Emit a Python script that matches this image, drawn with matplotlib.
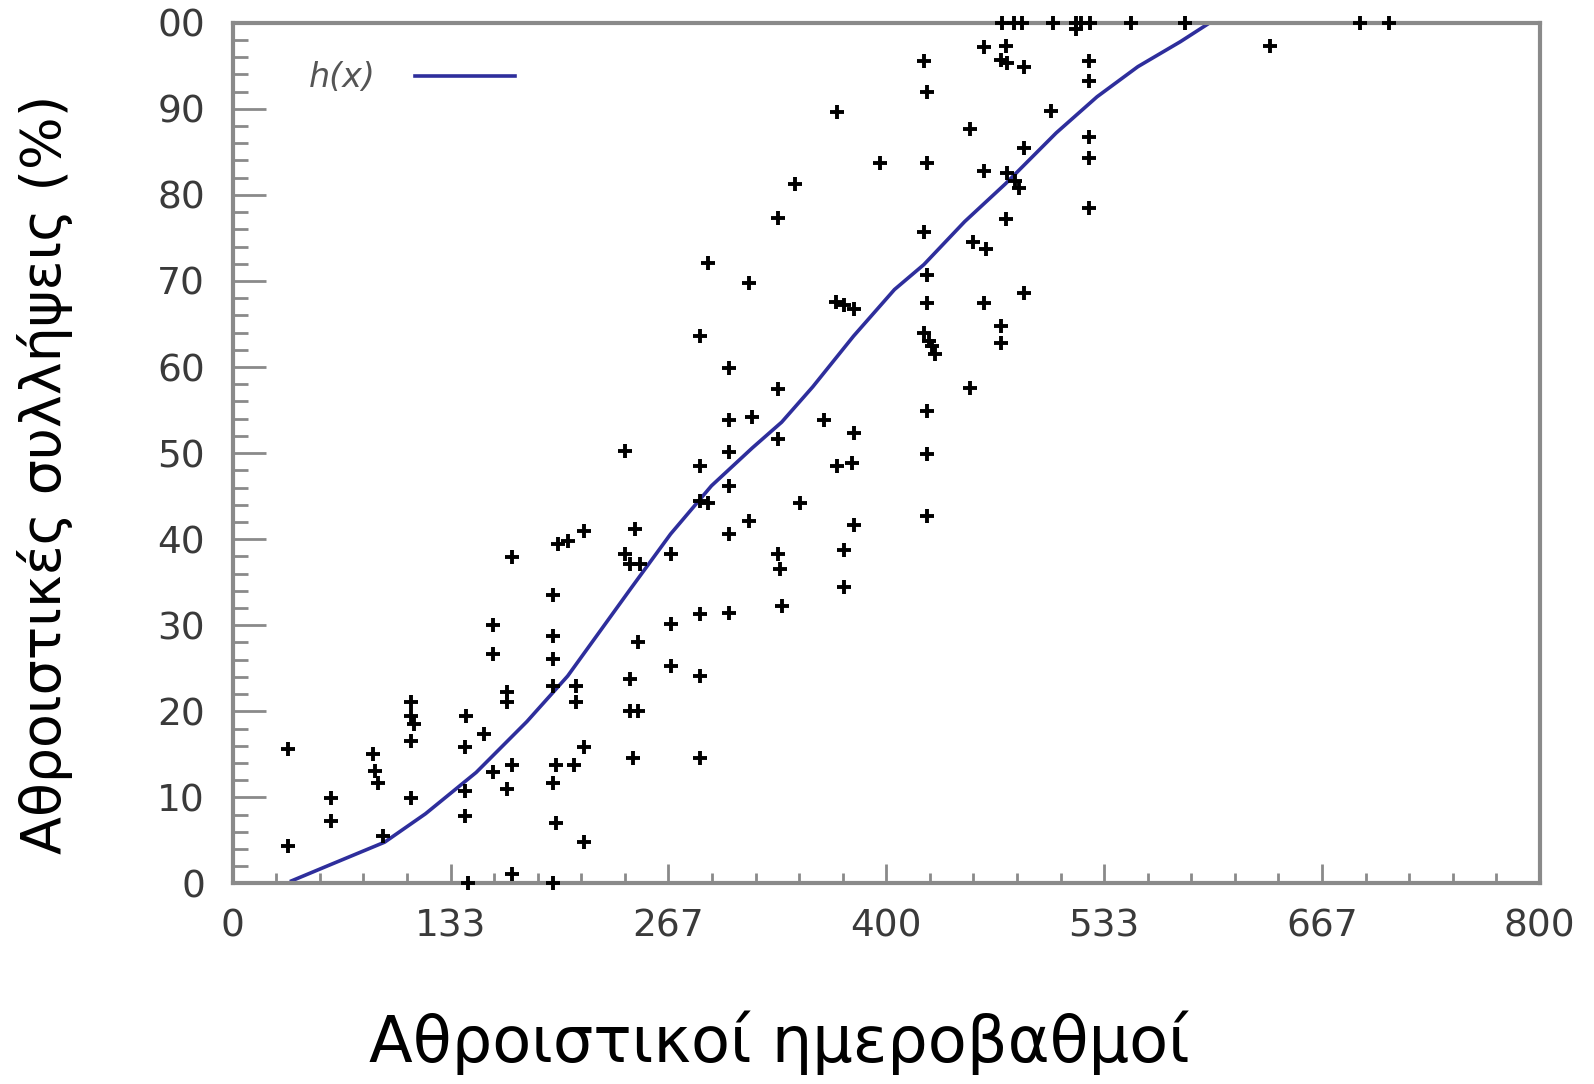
import matplotlib.pyplot as plt
from matplotlib.ticker import MultipleLocator, FixedLocator

# observed points: cumulative degree-days vs cumulative captures (%)
obs_x = [34, 34, 60, 60, 86, 87, 89, 92,
         109, 109, 111, 109, 109,
         143, 142, 142, 142, 144, 154,
         159, 159, 159, 168, 168, 168, 171, 171, 171,
         196, 196, 196, 196, 196, 198, 198, 196, 199, 205, 209, 210, 210, 215, 215, 215,
         240, 240, 243, 246, 243, 243, 248, 245, 248, 249,
         268, 268, 268,
         286, 286, 286, 286, 286, 286, 291, 291,
         304, 304, 304, 304, 304, 304, 316, 318, 316,
         334, 334, 334, 334, 335, 336, 344, 347, 362,
         370, 369, 374, 380, 370, 379, 374, 374, 380, 380, 396,
         423, 425, 425, 423, 425, 425, 423, 426, 428, 430, 425, 425, 425,
         451, 451, 453, 461, 460, 460, 460, 470, 470, 473, 470, 474, 473, 474, 479, 481,
         484, 484, 484, 501, 516, 524, 524, 524, 524, 524, 635,
         471, 478, 483, 502, 516, 519, 525, 550, 583, 690, 708]
obs_y = [15.6, 4.4, 9.9, 7.2, 15.0, 13.1, 11.7, 5.5,
         21.1, 19.4, 18.5, 16.6, 9.9,
         19.4, 15.8, 10.7, 7.8, 0.1, 17.4,
         30.0, 26.7, 12.9, 22.3, 21.1, 11.0, 37.9, 13.8, 1.1,
         33.5, 28.8, 26.1, 22.9, 11.7, 13.8, 7.0, 0.1, 39.4, 39.8, 13.8, 21.1, 22.9, 41.0, 15.8, 4.8,
         50.3, 38.3, 37.1, 41.2, 23.7, 20.0, 20.0, 14.6, 28.0, 37.1,
         38.3, 30.1, 25.3,
         63.6, 48.5, 44.4, 31.3, 24.1, 14.6, 72.1, 44.2,
         59.9, 53.8, 50.1, 46.2, 40.6, 31.4, 69.8, 54.2, 42.1,
         77.3, 57.5, 51.6, 38.3, 36.5, 32.2, 81.3, 44.2, 53.8,
         89.6, 67.5, 67.2, 66.8, 48.5, 48.9, 38.8, 34.4, 52.3, 41.7, 83.7,
         95.5, 92.0, 83.7, 75.7, 70.7, 67.4, 63.9, 63.0, 62.5, 61.5, 54.9, 49.9, 42.7,
         87.7, 57.6, 74.5, 73.7, 97.2, 82.8, 67.4, 64.8, 62.8, 97.3, 95.7, 95.3, 77.2, 82.5, 81.6, 80.8,
         94.9, 85.5, 68.6, 89.8, 99.3, 95.5, 93.2, 86.7, 84.3, 78.5, 97.3,
         100, 100, 100, 100, 100, 100, 100, 100, 100, 100, 100]

# fitted curve h(x)
fit_x = [36, 60, 93, 118, 149, 180, 205, 243, 268, 293, 318, 336, 355,
         380, 405, 423, 448, 473, 504, 529, 554, 580, 598]
fit_y = [0.3, 2.2, 4.8, 8.1, 12.9, 18.8, 24.1, 34.1, 40.6, 46.2, 50.6, 53.6, 57.7,
         63.6, 69.0, 71.9, 76.9, 81.3, 87.2, 91.4, 94.9, 97.8, 100]

x_ticks = [0, 133.33, 266.67, 400, 533.33, 666.67, 800]
x_tick_labels = ['0', '133', '267', '400', '533', '667', '800']
y_ticks = [0, 10, 20, 30, 40, 50, 60, 70, 80, 90, 100]
y_tick_labels = ['0', '10', '20', '30', '40', '50', '60', '70', '80', '90', '00']

fig = plt.figure(figsize=(15.94, 10.84), dpi=100)
ax = fig.add_axes([0.146, 0.185, 0.82, 0.794])

ax.plot(fit_x, fit_y, color='#2e2e9c', lw=2.6, label='h(x)', zorder=2)
ax.plot(obs_x, obs_y, linestyle='none', marker='+', ms=10, mew=2.8,
        color='black', clip_on=False, zorder=3)

ax.set_xlim(0, 800)
ax.set_ylim(0, 100)

ax.xaxis.set_major_locator(FixedLocator(x_ticks))
ax.set_xticklabels(x_tick_labels)
ax.xaxis.set_minor_locator(MultipleLocator(800 / 30))
ax.yaxis.set_major_locator(FixedLocator(y_ticks))
ax.set_yticklabels(y_tick_labels)
ax.yaxis.set_minor_locator(MultipleLocator(2))

ax.tick_params(axis='both', which='both', direction='in', colors='#8a8a8a',
               labelcolor='#3a3a3a', labelsize=27)
ax.tick_params(axis='x', which='major', length=14, width=2, pad=18)
ax.tick_params(axis='x', which='minor', length=7, width=2)
ax.tick_params(axis='y', which='major', length=24, width=2, pad=20)
ax.tick_params(axis='y', which='minor', length=11, width=2)
ax.tick_params(top=False, right=False, which='both')
ax.get_xticklines()[8].set_color('black')

for s in ax.spines.values():
    s.set_color('#8a8a8a')
    s.set_linewidth(3)

ax.set_xlabel('Αθροιστικοί ημεροβαθμοί', fontsize=46)
ax.xaxis.set_label_coords(0.418, -0.148)
ax.set_ylabel('Αθροιστικές συλλήψεις (%)', fontsize=40)
ax.yaxis.set_label_coords(-0.122, 0.475)

leg = ax.legend(loc='upper left', frameon=False, markerfirst=False,
                handlelength=3.0, handletextpad=1.2, fontsize=24,
                bbox_to_anchor=(0.035, 0.99))
for t in leg.get_texts():
    t.set_fontstyle('italic')
    t.set_color('#555555')

fig.savefig('out.png', dpi=100)
